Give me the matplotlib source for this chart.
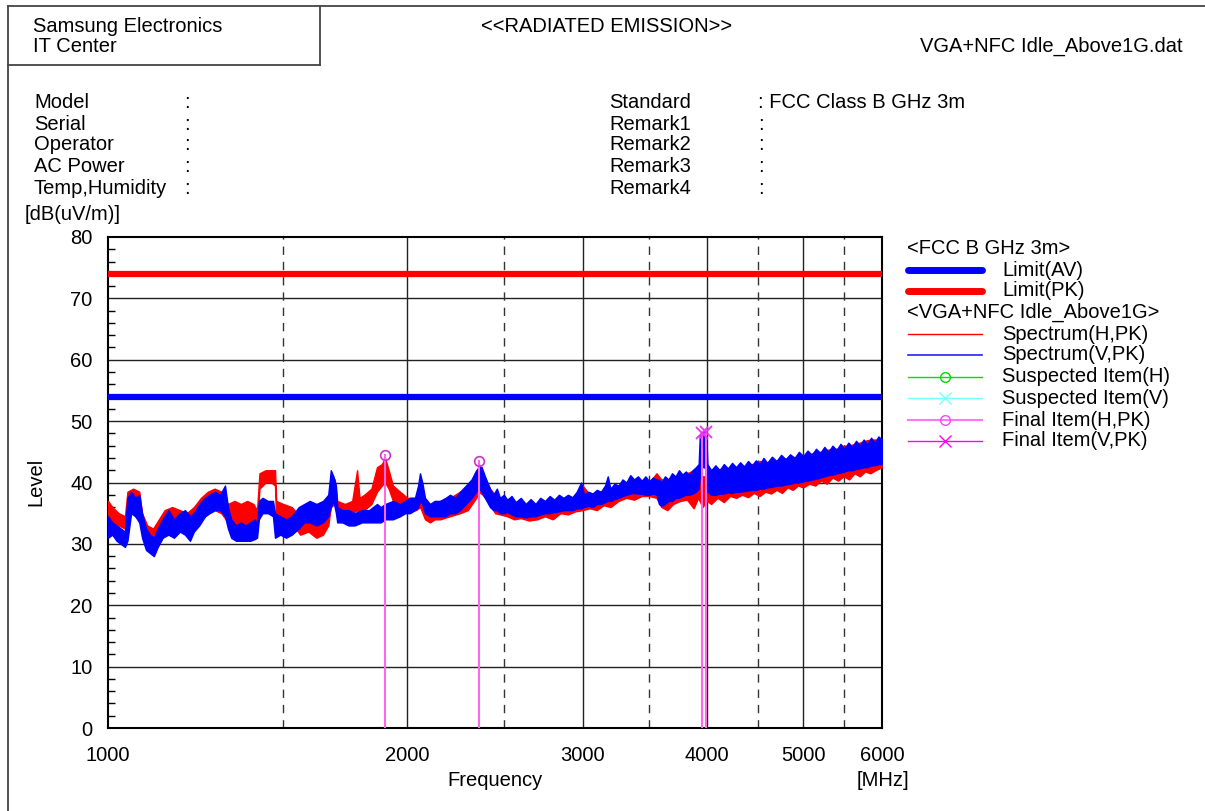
import matplotlib
matplotlib.use('Agg')
import matplotlib.pyplot as plt

plt.rcParams['font.family'] = ['Liberation Sans', 'DejaVu Sans']

# ---------------- data ----------------
# Spectrum(V,PK) envelope (frequency MHz, lower / upper level dB(uV/m))
v_freq = [1000, 1010, 1020, 1030, 1040, 1046, 1055, 1065, 1075, 1082, 1092, 1102, 1112, 1122,
          1135, 1150, 1165, 1181, 1195, 1209, 1220, 1235, 1252, 1265, 1281, 1296, 1311, 1320,
          1330, 1345, 1360, 1375, 1390, 1405, 1412, 1418, 1430, 1448, 1465, 1472, 1490, 1510,
          1530, 1555, 1575, 1595, 1620, 1645, 1665, 1675, 1685, 1695, 1700, 1720, 1745, 1770,
          1800, 1830, 1864, 1880, 1900, 1934, 1966, 1990, 2012, 2035, 2050, 2059, 2070, 2083,
          2107, 2130, 2157, 2185, 2207, 2235, 2259, 2290, 2320, 2345, 2360, 2375, 2393, 2421,
          2440, 2460, 2478, 2500, 2520, 2545, 2570, 2600, 2630, 2660, 2690, 2720, 2750, 2780,
          2810, 2840, 2870, 2900, 2930, 2960, 2990, 3010, 3040, 3070, 3100, 3130, 3160, 3180,
          3200, 3230, 3260, 3290, 3320, 3350, 3380, 3410, 3440, 3470, 3500, 3530, 3560, 3580,
          3600, 3630, 3660, 3690, 3720, 3750, 3780, 3810, 3840, 3870, 3900, 3925, 3935, 3950,
          3975, 3995, 4005, 4040, 4080, 4120, 4160, 4200, 4240, 4280, 4320, 4360, 4400, 4440,
          4480, 4520, 4560, 4600, 4650, 4700, 4750, 4800, 4850, 4900, 4950, 5000, 5050, 5100,
          5150, 5200, 5250, 5300, 5350, 5400, 5450, 5500, 5550, 5600, 5650, 5700, 5750, 5800,
          5850, 5900, 5950, 6000]
v_lo = [31.0, 31.5, 30.5, 30.0, 29.5, 30.5, 35.0, 34.5, 33.5, 31.0, 29.0, 28.5, 28.0, 29.5,
        31.0, 31.5, 31.0, 32.0, 31.5, 30.5, 32.0, 33.0, 34.5, 35.0, 35.5, 35.5, 34.5, 32.5,
        31.0, 30.5, 30.5, 30.5, 30.5, 30.8, 31.0, 34.0, 35.0, 35.0, 34.5, 31.0, 31.5, 31.0,
        31.5, 32.5, 33.5, 33.5, 33.0, 33.5, 34.5, 36.0, 37.0, 35.0, 33.5, 33.5, 33.0, 33.0,
        33.5, 33.5, 33.5, 33.5, 34.0, 34.0, 34.5, 35.0, 35.0, 35.5, 36.0, 37.0, 36.5, 35.0,
        34.5, 34.5, 34.5, 34.5, 35.0, 35.0, 35.5, 36.5, 37.5, 38.5, 39.0, 38.5, 37.5, 36.0,
        35.5, 35.5, 35.0, 35.0, 35.2, 34.8, 34.5, 34.5, 34.3, 34.5, 34.5, 34.8, 35.0, 35.0,
        35.2, 35.3, 35.5, 35.5, 35.5, 35.8, 35.8, 36.0, 36.2, 36.0, 36.5, 36.5, 36.8, 37.0,
        37.0, 37.3, 37.5, 37.8, 38.0, 38.2, 38.3, 38.2, 38.2, 38.0, 38.0, 38.2, 38.0, 36.5,
        36.2, 36.5, 37.0, 37.0, 37.5, 37.5, 37.8, 38.0, 38.0, 38.2, 38.5, 39.0, 41.0, 42.5,
        42.5, 42.0, 38.5, 38.0, 38.0, 38.2, 38.2, 38.4, 38.3, 38.5, 38.5, 38.6, 38.7, 38.8,
        38.8, 39.0, 39.0, 39.2, 39.3, 39.5, 39.5, 39.7, 39.8, 40.0, 40.0, 40.2, 40.3, 40.5,
        40.6, 40.8, 41.0, 41.2, 41.3, 41.5, 41.6, 41.8, 42.0, 42.0, 42.2, 42.3, 42.5, 42.5,
        42.8, 42.8, 43.0, 43.0]
v_hi = [34.5, 33.5, 33.0, 32.5, 32.0, 37.5, 38.5, 37.5, 38.0, 35.0, 32.5, 31.5, 31.0, 32.5,
        34.0, 35.5, 34.0, 35.0, 35.5, 34.5, 35.0, 36.5, 37.5, 38.0, 38.5, 38.0, 39.5, 36.0,
        34.0, 33.0, 33.5, 33.0, 33.5, 34.0, 33.0, 37.0, 37.5, 37.0, 37.0, 35.0, 34.5, 34.0,
        34.5, 36.0, 36.5, 37.0, 36.5, 37.0, 38.0, 42.0, 41.0, 39.5, 36.0, 35.5, 35.5, 35.0,
        35.5, 35.5, 36.5, 36.0, 36.5, 37.0, 36.5, 37.0, 37.5, 37.5, 39.5, 41.5, 40.0, 37.5,
        36.5, 37.0, 37.0, 37.5, 38.0, 37.5, 38.5, 39.5, 40.5, 42.0, 42.5, 42.5, 41.0, 39.0,
        38.0, 39.0, 37.5, 38.0, 37.2, 37.8, 36.8, 37.5, 36.5, 37.3, 36.5, 37.5, 37.0, 37.8,
        37.2, 38.0, 37.5, 38.0, 37.6, 38.5, 40.0, 38.0, 38.5, 38.2, 38.8, 38.5, 39.5, 41.0,
        39.0, 39.8, 39.5, 40.5, 40.0, 41.2, 40.5, 41.0, 40.3, 41.0, 40.2, 40.8, 40.5, 40.5,
        40.0, 41.0, 40.5, 41.5, 41.0, 42.0, 41.3, 41.8, 41.2, 42.0, 42.5, 43.0, 47.5, 48.0,
        48.5, 48.0, 43.0, 42.0, 42.8, 42.0, 43.0, 42.3, 43.2, 42.5, 43.3, 42.6, 43.5, 42.8,
        43.6, 43.0, 44.0, 43.2, 44.2, 43.5, 44.5, 43.8, 44.6, 44.0, 45.0, 44.3, 45.2, 44.5,
        45.5, 44.8, 45.8, 45.0, 46.0, 45.3, 46.3, 45.5, 46.5, 45.8, 46.8, 46.0, 47.0, 46.2,
        47.3, 46.5, 47.5, 47.0]

# Spectrum(H,PK) envelope
h_freq = [1000, 1010, 1025, 1040, 1046, 1060, 1075, 1082, 1095, 1110, 1125, 1140, 1160, 1181,
          1200, 1220, 1240, 1260, 1280, 1300, 1320, 1340, 1360, 1380, 1400, 1412, 1420, 1440,
          1460, 1472, 1476, 1500, 1530, 1560, 1590, 1620, 1645, 1665, 1675, 1690, 1700, 1730,
          1760, 1780, 1790, 1810, 1840, 1864, 1885, 1899, 1915, 1934, 1966, 2000, 2040, 2060,
          2083, 2107, 2130, 2157, 2207, 2259, 2300, 2345, 2360, 2380, 2421, 2450, 2478, 2520,
          2560, 2600, 2650, 2700, 2750, 2800, 2850, 2900, 2950, 3000, 3050, 3100, 3150, 3200,
          3260, 3320, 3380, 3440, 3500, 3560, 3600, 3650, 3700, 3760, 3820, 3880, 3920, 3960,
          4000, 4040, 4100, 4160, 4220, 4280, 4340, 4400, 4460, 4520, 4580, 4640, 4700, 4760,
          4820, 4880, 4940, 5000, 5070, 5140, 5210, 5280, 5350, 5420, 5490, 5560, 5630, 5700,
          5770, 5840, 5910, 6000]
h_lo = [33.0, 33.5, 33.0, 32.5, 34.5, 35.5, 35.0, 32.5, 30.0, 29.5, 30.5, 32.0, 32.5, 32.0,
        32.0, 32.5, 34.0, 35.0, 35.5, 35.0, 33.5, 32.5, 32.5, 33.0, 33.0, 33.0, 39.0, 40.0,
        40.0, 39.5, 33.5, 33.5, 33.5, 31.5, 32.0, 31.0, 31.5, 33.0, 36.0, 36.5, 34.5, 35.0,
        35.0, 35.5, 35.0, 35.5, 36.5, 38.5, 39.5, 40.0, 39.0, 37.0, 36.0, 35.5, 35.5, 36.0,
        34.0, 33.5, 34.0, 34.0, 34.5, 35.0, 35.5, 37.5, 38.5, 38.0, 36.5, 35.0, 34.8, 34.5,
        34.0, 34.2, 33.8, 34.0, 34.5, 34.0, 35.0, 34.8, 35.3, 35.5, 35.8, 35.5, 36.3, 36.0,
        37.0, 37.5, 37.2, 37.8, 37.8, 37.5, 36.0, 35.5, 36.5, 37.0, 37.2, 35.8, 37.5, 36.0,
        37.0, 36.5, 37.5, 36.8, 37.8, 37.5, 38.0, 37.6, 38.3, 37.8, 38.5, 38.2, 38.8, 38.3,
        39.2, 38.8, 39.5, 39.2, 39.8, 39.5, 40.3, 39.8, 40.8, 40.3, 41.0, 40.5, 41.5, 41.0,
        41.8, 41.5, 42.0, 42.5]
h_hi = [37.0, 36.0, 35.0, 34.5, 38.5, 39.0, 38.5, 35.0, 33.0, 32.5, 34.0, 35.5, 36.0, 35.5,
        35.0, 36.0, 37.5, 38.5, 39.0, 38.5, 36.5, 37.0, 36.5, 37.0, 36.5, 35.5, 41.5, 42.0,
        42.0, 42.0, 37.0, 36.5, 36.0, 34.5, 34.5, 33.5, 34.0, 36.0, 41.0, 40.5, 37.0, 36.5,
        37.0, 42.0, 37.5, 38.0, 39.0, 42.5, 43.0, 44.0, 42.0, 39.5, 38.5, 37.5, 37.5, 38.5,
        37.0, 36.0, 36.5, 37.0, 37.5, 38.5, 39.0, 41.0, 43.0, 41.5, 39.0, 38.0, 37.5, 37.0,
        36.5, 36.5, 36.5, 36.5, 36.8, 36.8, 37.0, 37.2, 37.5, 39.5, 38.0, 38.2, 38.5, 39.0,
        39.5, 39.8, 40.0, 40.0, 40.0, 41.5, 40.5, 40.5, 40.5, 41.0, 41.5, 42.0, 42.0, 41.0,
        41.0, 42.0, 42.0, 42.5, 42.0, 42.5, 42.5, 43.0, 43.0, 43.5, 43.2, 43.5, 43.5, 44.0,
        43.8, 44.2, 44.0, 44.5, 44.5, 45.0, 45.0, 45.3, 45.5, 45.5, 46.0, 46.0, 46.3, 46.5,
        46.8, 47.0, 47.0, 47.0]

limit_av = 54.0
limit_pk = 74.0

final_h_freq = [1899, 2360]
final_h_level = [44.4, 43.5]
final_v_freq = [3955, 3992]
final_v_level = [48.0, 48.3]

x_ticks = [1000, 2000, 3000, 4000, 5000, 6000]
x_solid_grid = [2000, 3000, 4000, 5000]
x_dash_grid = [1500, 2500, 3500, 4500, 5500]
y_ticks = [0, 10, 20, 30, 40, 50, 60, 70, 80]
y_minor = [v for v in range(0, 81, 2) if v % 10]

info_left = ['Model', 'Serial', 'Operator', 'AC Power', 'Temp,Humidity']
info_right = ['Standard', 'Remark1', 'Remark2', 'Remark3', 'Remark4']
info_right_val = ['FCC Class B GHz 3m', '', '', '', '']

# ---------------- figure ----------------
W, H = 1205, 811
FS = 14.5
fig = plt.figure(figsize=(W / 100, H / 100), dpi=100)
ax = fig.add_axes([108 / W, 1 - 728 / H, 774 / W, 491 / H])
ax.set_xscale('log')
ax.set_xlim(1000, 6000)
ax.set_ylim(0, 80)

for y in y_ticks[1:-1]:
    ax.axhline(y, color='#222222', lw=1.0, zorder=1)
for x in x_solid_grid:
    ax.axvline(x, color='#222222', lw=1.0, zorder=1)
for x in x_dash_grid:
    ax.axvline(x, color='#333333', lw=1.0, ls=(0, (6, 5)), zorder=1)

ax.plot([1000, 6000], [limit_pk, limit_pk], color='#ff0000', lw=4.5, zorder=3, solid_capstyle='butt')
ax.plot([1000, 6000], [limit_av, limit_av], color='#0000ff', lw=4.5, zorder=3, solid_capstyle='butt')

ax.fill_between(h_freq, h_lo, h_hi, color='#ff0000', lw=1.0, zorder=3)
ax.fill_between(v_freq, v_lo, v_hi, color='#0000ff', lw=1.0, zorder=4)

for f, l in zip(final_h_freq, final_h_level):
    ax.plot([f, f], [0, l], color='#ff66ee', lw=1.5, zorder=5)
ax.plot(final_h_freq, final_h_level, ls='none', marker='o', ms=7, mfc='none',
        mec='#cc33cc', mew=1.2, zorder=6)
for f, l in zip(final_v_freq, final_v_level):
    ax.plot([f, f], [0, l], color='#ff66ee', lw=1.5, zorder=5)
ax.plot(final_v_freq, final_v_level, ls='none', marker='x', ms=8, mec='#ee33ee',
        mew=1.3, zorder=6)

ax.set_xticks(x_ticks)
ax.set_xticklabels([str(t) for t in x_ticks])
ax.xaxis.set_minor_locator(matplotlib.ticker.NullLocator())
ax.set_yticks(y_ticks)
ax.set_yticks(y_minor, minor=True)
ax.tick_params(axis='x', which='both', length=0, pad=13, labelsize=FS)
ax.tick_params(axis='y', which='major', direction='in', length=0, pad=11, labelsize=FS)
ax.tick_params(axis='y', which='minor', direction='in', length=5, width=1)
for s in ax.spines.values():
    s.set_linewidth(1.5)
    s.set_color('black')

# ---------------- overlay for page text ----------------
ov = fig.add_axes([0, 0, 1, 1])
ov.set_xlim(0, W)
ov.set_ylim(H, 0)
ov.axis('off')

lc = '#444444'
ov.plot([8, 1205], [6, 6], color=lc, lw=1.3)
ov.plot([8, 8], [6, 811], color=lc, lw=1.3)
ov.plot([8, 320], [65, 65], color=lc, lw=1.3)
ov.plot([320, 320], [6, 65], color=lc, lw=1.3)

ov.text(33, 26, 'Samsung Electronics', fontsize=FS, va='center', ha='left')
ov.text(33, 47, 'IT Center', fontsize=FS, va='center', ha='left')
ov.text(607, 26, '<<RADIATED EMISSION>>', fontsize=FS, va='center', ha='center')
ov.text(1183, 46, 'VGA+NFC Idle_Above1G.dat', fontsize=FS, va='center', ha='right')

rows_y = [103, 124, 145, 167, 188]
for y, lab in zip(rows_y, info_left):
    ov.text(34, y, lab, fontsize=FS, va='center', ha='left')
    ov.text(184, y, ':', fontsize=FS, va='center', ha='left')
for y, lab, val in zip(rows_y, info_right, info_right_val):
    ov.text(609, y, lab, fontsize=FS, va='center', ha='left')
    ov.text(758, y, ':' + (' ' + val if val else ''), fontsize=FS, va='center', ha='left')

ov.text(25, 215, '[dB(uV/m)]', fontsize=FS, va='center', ha='left')
ov.text(36, 482, 'Level', fontsize=FS, va='center', ha='center', rotation=90)
ov.text(495, 781, 'Frequency', fontsize=FS, va='center', ha='center')
ov.text(883, 781, '[MHz]', fontsize=FS, va='center', ha='center')

# legend
ly = [248, 270, 291, 312, 334, 355, 377, 398, 420, 441]
ov.text(907, ly[0], '<FCC B GHz 3m>', fontsize=FS, va='center', ha='left')
ov.text(907, ly[3], '<VGA+NFC Idle_Above1G>', fontsize=FS, va='center', ha='left')
x0, x1, xm, xt = 908, 982, 945, 1002
ov.plot([x0, x1], [ly[1], ly[1]], color='#0000ff', lw=5, solid_capstyle='round')
ov.text(xt, ly[1], 'Limit(AV)', fontsize=FS, va='center', ha='left')
ov.plot([x0, x1], [ly[2], ly[2]], color='#ff0000', lw=5, solid_capstyle='round')
ov.text(xt, ly[2], 'Limit(PK)', fontsize=FS, va='center', ha='left')
ov.plot([x0, x1], [ly[4], ly[4]], color='#ff0000', lw=1.0)
ov.text(xt, ly[4], 'Spectrum(H,PK)', fontsize=FS, va='center', ha='left')
ov.plot([x0, x1], [ly[5], ly[5]], color='#2222ff', lw=1.2)
ov.text(xt, ly[5], 'Spectrum(V,PK)', fontsize=FS, va='center', ha='left')
ov.plot([x0, x1], [ly[6], ly[6]], color='#00dd00', lw=1.0)
ov.plot([xm], [ly[6]], marker='o', ms=7, mfc='none', mec='#00dd00', mew=1.0)
ov.text(xt, ly[6], 'Suspected Item(H)', fontsize=FS, va='center', ha='left')
ov.plot([x0, x1], [ly[7], ly[7]], color='#77ffff', lw=1.0)
ov.plot([xm], [ly[7]], marker='x', ms=8, mec='#77ffff', mew=1.0)
ov.text(xt, ly[7], 'Suspected Item(V)', fontsize=FS, va='center', ha='left')
ov.plot([x0, x1], [ly[8], ly[8]], color='#ff77ff', lw=1.5)
ov.plot([xm], [ly[8]], marker='o', ms=7, mfc='none', mec='#ff44ff', mew=1.0)
ov.text(xt, ly[8], 'Final Item(H,PK)', fontsize=FS, va='center', ha='left')
ov.plot([x0, x1], [ly[9], ly[9]], color='#ff00ff', lw=1.0)
ov.plot([xm], [ly[9]], marker='x', ms=8, mec='#ff00ff', mew=1.0)
ov.text(xt, ly[9], 'Final Item(V,PK)', fontsize=FS, va='center', ha='left')

fig.savefig('out.png', dpi=100)
